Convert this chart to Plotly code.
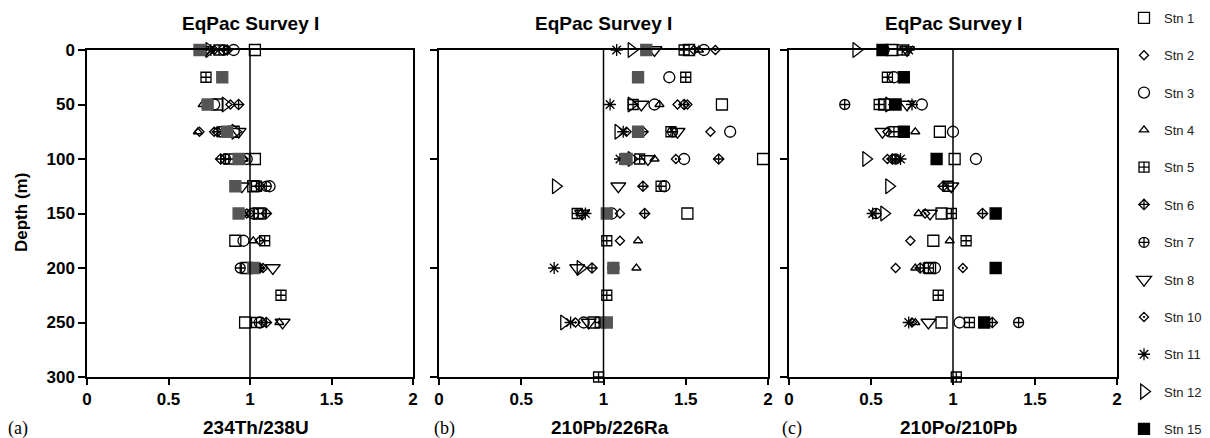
import plotly.graph_objects as go

# ---------------- data ----------------
stations = ["Stn 1", "Stn 2", "Stn 3", "Stn 4", "Stn 5", "Stn 6", "Stn 7",
            "Stn 8", "Stn 10", "Stn 11", "Stn 12", "Stn 15"]

# Panel (a) 234Th/238U : station, depth (m), ratio
th_stn = [1, 2, 3, 5, 6, 7, 8, 10, 11, 12, 15,
          5, 15,
          4, 15, 1, 3, 12, 2, 6,
          4, 2, 10, 6, 5, 15, 1, 12, 8,
          6, 7, 5, 15, 4, 2, 3, 1,
          15, 8, 1, 5, 6, 7, 3,
          15, 4, 2, 10, 3, 5, 1, 6,
          1, 3, 4, 2, 5,
          7, 1, 15, 11, 2, 6, 10, 8,
          5,
          1, 5, 3, 2, 6, 4, 8]
th_depth = [0] * 11 + [25] * 2 + [50] * 7 + [75] * 9 + [100] * 8 + [125] * 7 + \
           [150] * 8 + [175] * 5 + [200] * 8 + [225] * 1 + [250] * 7
th_ratio = [1.03, 0.85, 0.90, 0.81, 0.86, 0.84, 0.73, 0.78, 0.76, 0.75, 0.69,
            0.73, 0.83,
            0.71, 0.74, 0.80, 0.78, 0.85, 0.88, 0.93,
            0.68, 0.69, 0.78, 0.80, 0.84, 0.86, 0.90, 0.91, 0.93,
            0.82, 0.85, 0.87, 0.93, 0.96, 0.96, 0.98, 1.03,
            0.91, 0.95, 1.02, 1.04, 1.06, 1.10, 1.12,
            0.93, 0.96, 0.98, 1.00, 1.02, 1.05, 1.06, 1.10,
            0.91, 0.96, 1.02, 1.06, 1.09,
            0.94, 0.98, 1.02, 1.04, 1.05, 1.06, 1.08, 1.14,
            1.19,
            0.97, 1.04, 1.06, 1.08, 1.10, 1.18, 1.20]

# Panel (b) 210Pb/226Ra
pb_stn = [11, 12, 15, 8, 5, 1, 2, 4, 3, 10,
          15, 3, 5,
          11, 12, 5, 8, 3, 4, 2, 6, 10, 1,
          12, 11, 10, 15, 6, 5, 7, 8, 2, 3,
          11, 15, 12, 5, 8, 4, 10, 3, 6, 1,
          12, 8, 6, 5, 3,
          5, 4, 11, 8, 15, 3, 2, 6, 1,
          5, 2, 4,
          11, 8, 12, 6, 15, 3, 7, 4,
          5,
          12, 11, 10, 3, 8, 1, 5, 6, 7, 15,
          5]
pb_depth = [0] * 10 + [25] * 3 + [50] * 10 + [75] * 10 + [100] * 10 + [125] * 5 + \
           [150] * 9 + [175] * 3 + [200] * 8 + [225] * 1 + [250] * 10 + [300] * 1
pb_ratio = [1.08, 1.17, 1.26, 1.31, 1.49, 1.52, 1.55, 1.58, 1.61, 1.68,
            1.21, 1.40, 1.50,
            1.04, 1.17, 1.18, 1.23, 1.31, 1.34, 1.45, 1.49, 1.51, 1.72,
            1.09, 1.12, 1.14, 1.21, 1.24, 1.41, 1.42, 1.45, 1.65, 1.77,
            1.10, 1.14, 1.17, 1.22, 1.27, 1.31, 1.44, 1.49, 1.70, 1.97,
            0.71, 1.09, 1.24, 1.35, 1.37,
            0.84, 0.86, 0.89, 0.87, 1.02, 1.05, 1.10, 1.25, 1.51,
            1.02, 1.10, 1.21,
            0.70, 0.84, 0.86, 0.93, 1.06, 1.06, 1.06, 1.20,
            1.02,
            0.76, 0.80, 0.83, 0.88, 0.91, 0.94, 0.98, 1.00, 1.01, 1.02,
            0.97]

# Panel (c) 210Po/210Pb
po_stn = [12, 15, 7, 1, 5, 8, 11,
          5, 3, 15,
          7, 5, 1, 12, 6, 15, 8, 11, 3,
          8, 2, 5, 15, 4, 1, 3,
          12, 10, 6, 7, 4, 11, 15, 1, 3,
          12, 6, 5, 8,
          11, 7, 12, 4, 10, 8, 1, 5, 6, 15,
          2, 1, 4, 5,
          2, 4, 6, 5, 1, 3, 10, 15,
          5,
          11, 10, 4, 8, 1, 3, 5, 15, 6, 7,
          5]
po_depth = [0] * 7 + [25] * 3 + [50] * 9 + [75] * 7 + [100] * 9 + [125] * 4 + \
           [150] * 10 + [175] * 4 + [200] * 8 + [225] * 1 + [250] * 10 + [300] * 1
po_ratio = [0.41, 0.57, 0.58, 0.63, 0.69, 0.72, 0.73,
            0.60, 0.64, 0.70,
            0.34, 0.55, 0.58, 0.61, 0.64, 0.65, 0.72, 0.75, 0.81,
            0.57, 0.60, 0.64, 0.70, 0.77, 0.92, 1.00,
            0.47, 0.60, 0.63, 0.65, 0.66, 0.68, 0.90, 1.01, 1.14,
            0.61, 0.94, 0.97, 0.99,
            0.51, 0.53, 0.58, 0.79, 0.83, 0.86, 0.93, 0.99, 1.18, 1.26,
            0.74, 0.88, 0.98, 1.08,
            0.65, 0.77, 0.80, 0.85, 0.86, 0.89, 1.06, 1.26,
            0.91,
            0.73, 0.75, 0.77, 0.85, 0.93, 1.04, 1.10, 1.19, 1.24, 1.40,
            1.02]

panel_titles = ["EqPac Survey I", "EqPac Survey I", "EqPac Survey I"]
x_titles = ["234Th/238U", "210Pb/226Ra", "210Po/210Pb"]
panel_letters = ["(a)", "(b)", "(c)"]
x_ticks = [0, 0.5, 1, 1.5, 2]
x_ticklabels = ["0", "0.5", "1", "1.5", "2"]
y_ticks = [0, 50, 100, 150, 200, 250, 300]

# ---------------- styles ----------------
symbols = {1: ("square-open", 11), 2: ("diamond-open", 7), 3: ("circle-open", 11),
           4: ("triangle-up-open", 8), 5: ("square-cross-open", 10),
           6: ("diamond-cross-open", 8), 7: ("circle-cross-open", 10),
           8: ("triangle-down-open", 13), 10: ("diamond-open-dot", 7),
           11: ("asterisk-open", 10), 12: ("triangle-right-open", 13),
           15: ("square", 11)}
stn_ids = [1, 2, 3, 4, 5, 6, 7, 8, 10, 11, 12, 15]
fill15 = ["#555555", "#555555", "#000000"]

W, H = 1210, 438
px_x = [(87, 413), (439, 768), (789, 1117)]
top_px, bot_px = 50, 377
ydom = [1 - bot_px / H, 1 - top_px / H]

FONT = "Liberation Sans, Arial, sans-serif"
fig = go.Figure()

panels = [(th_stn, th_depth, th_ratio), (pb_stn, pb_depth, pb_ratio),
          (po_stn, po_depth, po_ratio)]

for p, (sl, dl, rl) in enumerate(panels):
    xa = "x" if p == 0 else f"x{p + 1}"
    ya = "y" if p == 0 else f"y{p + 1}"
    for k, sid in enumerate(stn_ids):
        xs = [r for s, r in zip(sl, rl) if s == sid]
        ys = [d for s, d in zip(sl, dl) if s == sid]
        sym, size = symbols[sid]
        color = fill15[p] if sid == 15 else "black"
        fig.add_trace(go.Scatter(
            x=xs, y=ys, mode="markers", xaxis=xa, yaxis=ya,
            name=stations[k], legendgroup=stations[k],
            legend="legend" if k < 6 else "legend2",
            showlegend=(p == 2), cliponaxis=False,
            marker=dict(symbol=sym, size=size, color=color,
                        line=dict(color=color, width=1.3)),
        ))

STEP = 37.4
leg_common = dict(xanchor="left", yanchor="top", traceorder="grouped",
                  tracegroupgap=STEP - 20,
                  font=dict(family=FONT, size=13, color="#222222"),
                  bgcolor="rgba(0,0,0,0)", itemsizing="trace")
layout = dict(
    width=W, height=H, margin=dict(l=0, r=0, t=0, b=0, autoexpand=False),
    paper_bgcolor="white", plot_bgcolor="white",
    font=dict(family=FONT, color="black"),
    legend=dict(x=1124 / W, y=1 - 3 / H, **leg_common),
    legend2=dict(x=1124 / W, y=1 - 3 / H - 6 * STEP / H, **leg_common),
    showlegend=True,
)

for p in range(3):
    sx = "" if p == 0 else str(p + 1)
    x0, x1 = px_x[p]
    layout[f"xaxis{sx}"] = dict(
        domain=[x0 / W, x1 / W], range=[0, 2], anchor=f"y{sx}",
        tickvals=x_ticks, ticktext=x_ticklabels, ticks="outside", ticklen=6,
        tickwidth=1.5, tickcolor="black", showline=True, linecolor="black",
        linewidth=1.5, mirror=True, showgrid=False, zeroline=False,
        tickfont=dict(family=FONT, size=17, color="black", weight="bold"),
    )
    layout[f"yaxis{sx}"] = dict(
        domain=ydom, range=[300, 0], anchor=f"x{sx}",
        tickvals=y_ticks if p == 0 else [0, 100, 200, 300],
        showticklabels=(p == 0), ticks="outside", ticklen=7, tickwidth=1.5,
        tickcolor="black", showline=True, linecolor="black", linewidth=1.5,
        mirror=True, showgrid=False, zeroline=False,
        tickfont=dict(family=FONT, size=17, color="black", weight="bold"),
    )

fig.update_layout(**layout)

for p in range(3):
    sx = "" if p == 0 else str(p + 1)
    x0, x1 = px_x[p]
    fig.add_shape(type="line", xref=f"x{sx}", yref=f"y{sx} domain",
                  x0=1, x1=1, y0=0, y1=1, line=dict(color="black", width=1.5))
    cx = (x0 + x1) / 2 / W
    fig.add_annotation(text=f"<b>{panel_titles[p]}</b>", xref="paper", yref="paper",
                       x=cx, y=1 - 23 / H, showarrow=False, xanchor="center",
                       yanchor="middle", font=dict(family=FONT, size=19, color="black"))
    fig.add_annotation(text=f"<b>{x_titles[p]}</b>", xref="paper", yref="paper",
                       x=cx + 6 / W, y=1 - 427 / H, showarrow=False, xanchor="center",
                       yanchor="middle", font=dict(family=FONT, size=19, color="black"))

letter_x = [6, 432, 780]
for p in range(3):
    fig.add_annotation(text=panel_letters[p], xref="paper", yref="paper",
                       x=letter_x[p] / W, y=1 - 428 / H, showarrow=False,
                       xanchor="left", yanchor="middle",
                       font=dict(family="Liberation Serif, Times New Roman, serif",
                                 size=18, color="black"))

fig.add_annotation(text="<b>Depth (m)</b>", xref="paper", yref="paper",
                   x=22 / W, y=1 - 213 / H, showarrow=False, textangle=-90,
                   xanchor="center", yanchor="middle",
                   font=dict(family=FONT, size=17, color="black"))

fig.write_html("out.html")
